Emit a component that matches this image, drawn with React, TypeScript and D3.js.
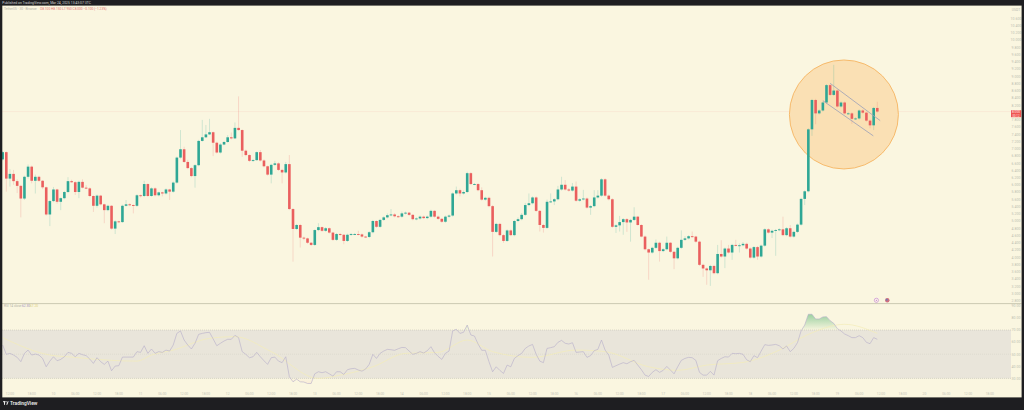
import * as d3 from 'd3';

// prices, one candle per entry
const firstOpen = 6.68;
const closes = [
  6.88, 6.15, 6.28, 6.08, 5.95, 5.60, 6.20, 6.48, 6.09, 6.20,
  6.09, 5.91, 5.16, 5.53, 5.85, 5.51, 5.61, 5.78, 6.08, 6.05,
  5.78, 6.06, 5.90, 5.88, 5.67, 5.40, 5.68, 5.44, 5.28, 5.40,
  4.77, 4.97, 4.95, 5.40, 5.44, 5.42, 5.40, 5.69, 5.67, 6.00,
  5.67, 5.88, 5.69, 5.77, 5.74, 5.85, 5.79, 6.04, 6.73, 6.96,
  6.61, 6.44, 6.22, 6.52, 7.19, 7.29, 7.37, 7.43, 7.14, 6.87,
  7.09, 7.16, 7.29, 7.26, 7.55, 7.49, 6.92, 6.80, 6.64, 6.66,
  6.88, 6.65, 6.49, 6.26, 6.53, 6.57, 6.39, 6.32, 6.55, 5.31,
  4.76, 4.87, 4.52, 4.50, 4.38, 4.32, 4.73, 4.81, 4.71, 4.78,
  4.66, 4.46, 4.62, 4.60, 4.43, 4.60, 4.62, 4.62, 4.61, 4.55,
  4.54, 4.67, 4.98, 4.82, 5.01, 5.08, 5.14, 5.16, 5.11, 5.10,
  5.19, 5.21, 5.15, 5.03, 5.05, 5.10, 5.06, 5.10, 5.26, 5.10,
  5.04, 4.96, 5.10, 5.13, 5.74, 5.83, 5.74, 5.78, 6.30, 6.00,
  6.00, 5.83, 5.57, 5.62, 5.39, 4.68, 4.90, 4.59, 4.43, 4.72,
  4.59, 4.98, 5.03, 5.15, 5.42, 5.47, 5.63, 5.26, 4.87, 4.79,
  5.51, 5.52, 5.58, 5.85, 5.98, 5.85, 5.82, 5.93, 5.54, 5.58,
  5.60, 5.35, 5.39, 5.63, 5.68, 6.13, 5.68, 5.58, 4.82, 4.86,
  4.95, 5.03, 4.94, 5.01, 5.10, 4.87, 4.55, 4.20, 4.11, 4.24,
  4.38, 4.15, 4.20, 4.38, 4.13, 3.95, 4.24, 4.46, 4.50, 4.56,
  4.55, 4.41, 3.77, 3.67, 3.62, 3.74, 3.54, 4.07, 4.00, 4.22,
  4.11, 4.32, 4.31, 4.31, 4.35, 4.22, 3.97, 4.26, 4.00, 4.30,
  4.75, 4.66, 4.71, 4.73, 4.75, 4.59, 4.78, 4.55, 4.68, 4.88,
  5.59, 5.80, 7.51, 8.32, 7.95, 8.03, 8.25, 8.73, 8.46, 8.58,
  8.14, 8.25, 7.95, 7.95, 7.80, 7.81, 8.03, 7.97, 7.75, 7.62, 8.10, 8.00,
];

// wick length above and below the body
const upperWicks = [
  .03, .02, .13, .11, .05, .03, .03, .06, .03, .06,
  .03, .02, .02, .03, .07, .02, .02, .03, .11, .04,
  .03, .03, .07, .07, .03, .02, .03, .02, .02, .03,
  .02, .03, .02, .03, .12, .03, .02, .03, .02, .09,
  .02, .03, .03, .02, .02, .03, .02, .03, .03, .53,
  .07, .06, .03, .03, .03, .48, .26, .37, .02, .03,
  .04, .03, .06, .13, .15, .87, .02, .03, .02, .03,
  .02, .06, .03, .02, .03, .07, .03, .03, .06, .25,
  .03, .03, .03, .03, .02, .02, .02, .11, .02, .03,
  .02, .02, .03, .03, .02, .03, .03, .03, .09, .03,
  .02, .03, .03, .02, .03, .03, .05, .15, .04, .03,
  .05, .03, .02, .02, .03, .03, .03, .03, .03, .02,
  .03, .02, .03, .03, .03, .10, .04, .04, .04, .03,
  .03, .03, .08, .03, .03, .03, .03, .03, .03, .03,
  .03, .03, .05, .05, .06, .27, .03, .03, .02, .03,
  .06, .22, .03, .10, .22, .13, .04, .10, .14, .03,
  .24, .03, .03, .20, .15, .03, .03, .03, .03, .03,
  .17, .03, .03, .03, .26, .02, .02, .03, .02, .03,
  .09, .03, .03, .17, .02, .02, .03, .26, .06, .03,
  .13, .02, .03, .03, .03, .03, .03, .25, .38, .03,
  .10, .03, .14, .05, .05, .03, .03, .03, .03, .03,
  .03, .03, .03, .03, .03, .35, .03, .09, .03, .03,
  .03, .03, .03, .03, .03, .03, .03, .03, .03, .71,
  .03, .03, .03, .03, .03, .03, .03, .03, .03, .03, .03, .17,
];
const lowerWicks = [
  .03, .36, .22, .10, .20, .52, .04, .05, .07, .35,
  .03, .05, .03, .32, .03, .05, .23, .03, .03, .02,
  .08, .17, .02, .02, .03, .17, .05, .03, .36, .03,
  .03, .15, .03, .02, .02, .03, .21, .03, .04, .03,
  .03, .02, .03, .03, .08, .03, .23, .03, .03, .03,
  .03, .03, .03, .32, .03, .02, .02, .02, .37, .03,
  .03, .02, .02, .03, .02, .02, .17, .03, .03, .03,
  .02, .03, .03, .03, .24, .03, .03, .30, .03, .03,
  .90, .03, .27, .05, .03, .03, .03, .03, .03, .03,
  .03, .03, .03, .03, .09, .03, .03, .03, .03, .03,
  .03, .03, .03, .03, .03, .03, .03, .03, .03, .03,
  .03, .03, .03, .03, .03, .03, .03, .03, .03, .03,
  .03, .03, .03, .03, .03, .03, .08, .03, .03, .03,
  .03, .03, .03, .03, .03, .68, .03, .03, .05, .03,
  .03, .03, .03, .03, .03, .03, .03, .03, .18, .13,
  .03, .03, .10, .03, .03, .03, .03, .03, .03, .03,
  .03, .03, .20, .03, .03, .03, .03, .03, .03, .17,
  .17, .35, .26, .53, .03, .02, .02, .03, .75, .03,
  .03, .29, .03, .03, .03, .30, .03, .03, .03, .03,
  .03, .03, .03, .23, .40, .43, .03, .03, .03, .32,
  .03, .20, .03, .20, .03, .03, .03, .03, .09, .03,
  .03, .03, .15, .69, .03, .03, .03, .03, .03, .03,
  .03, .17, .03, .18, .30, .03, .03, .03, .03, .03,
  .03, .03, .03, .03, .14, .03, .03, .03, .03, .08, .13, .03,
];

const rsiValues = [
  57.6, 49.9, 50.7, 49.3, 47.4, 43.8, 50.7, 53.4, 49.3, 50.1,
  49.3, 46.5, 39.6, 44.3, 47.9, 44.6, 45.7, 47.9, 51.5, 50.7,
  47.9, 50.7, 49.6, 48.8, 46.0, 42.4, 47.1, 43.8, 41.6, 44.3,
  36.3, 40.2, 40.5, 47.6, 47.6, 47.6, 47.6, 52.1, 51.5, 57.0,
  50.7, 54.3, 50.7, 52.1, 51.5, 53.4, 52.6, 57.6, 67.2, 69.2,
  61.7, 57.6, 54.3, 59.0, 66.4, 67.2, 67.8, 68.1, 62.6, 57.0,
  59.0, 60.9, 62.3, 62.3, 65.6, 63.7, 52.1, 49.9, 47.1, 47.9,
  51.5, 47.9, 44.6, 41.6, 47.1, 47.6, 44.3, 43.0, 47.9, 31.4,
  27.2, 29.4, 27.2, 27.0, 25.8, 25.8, 33.8, 35.5, 34.7, 35.5,
  33.8, 31.9, 35.5, 35.5, 33.3, 37.2, 38.0, 38.3, 36.9, 36.0,
  37.7, 41.6, 49.9, 46.5, 50.7, 52.6, 54.0, 53.7, 53.2, 54.5,
  55.6, 55.4, 52.6, 49.9, 50.7, 52.1, 51.0, 52.9, 56.2, 51.2,
  48.2, 45.7, 50.7, 52.6, 69.2, 70.6, 67.2, 68.1, 74.1, 65.9,
  65.0, 58.4, 53.2, 53.2, 43.8, 35.5, 39.6, 36.6, 34.1, 41.0,
  39.6, 46.5, 48.8, 50.7, 54.8, 56.8, 58.1, 49.9, 44.3, 43.0,
  54.8, 55.4, 56.2, 59.8, 61.4, 59.0, 58.4, 59.5, 51.5, 51.8,
  52.1, 47.4, 48.8, 52.9, 54.0, 61.7, 53.4, 49.3, 39.1, 40.5,
  41.8, 43.0, 42.1, 43.8, 44.9, 41.0, 37.2, 32.7, 31.6, 35.0,
  37.2, 35.0, 36.6, 39.9, 36.9, 33.8, 39.6, 44.9, 46.5, 47.4,
  47.1, 44.9, 35.0, 32.7, 32.7, 35.8, 32.7, 44.6, 46.5, 47.9,
  47.6, 50.7, 50.4, 50.7, 49.9, 45.4, 43.8, 48.8, 47.1, 52.6,
  57.9, 57.3, 57.6, 58.1, 57.0, 54.3, 56.8, 52.1, 54.8, 59.5,
  69.2, 74.1, 83.0, 83.0, 79.1, 79.1, 80.8, 81.0, 77.7, 75.5,
  71.1, 69.2, 66.7, 65.3, 63.7, 63.7, 65.3, 63.7, 59.8, 58.7, 63.7, 62.3,
];

// the RSI moving average, read at these candles
const rsiMaCandles = [0, 13, 19, 30, 37, 41, 47, 57, 64, 74, 87, 93, 102, 111, 120, 128, 135, 146, 158, 166, 178, 186, 194, 204, 214, 222, 232, 241];
const rsiMaValues = [63.6, 49.3, 47.6, 44.9, 44.3, 49.3, 53.4, 63.1, 64.5, 52.1, 30.0, 32.7, 39.6, 50.7, 51.5, 61.7, 52.1, 47.4, 53.4, 52.1, 39.6, 36.7, 41.0, 43.2, 53.4, 66.4, 74.7, 67.2];

const priceTicks = d3.range(0, 40).map(i => +(10.6 - i * 0.2).toFixed(1));
const rsiTicks = [90, 80, 70, 60, 50, 40, 30];
const hourLabels = ['12:00', '18:00', '', '06:00'];
const dayLabels = ['10', '11', '12', '13', '14', '15', '16', '17', '18', '19', '20', '21'];

const lastPrice = 8.0;
const flagUpper: [number, number][] = [[228, 8.78], [241.8, 7.75]];
const flagLower: [number, number][] = [[226, 8.30], [239.9, 7.33]];
const circleCenter: [number, number] = [231.8, 7.92];

const WIDTH = 1024;
const HEIGHT = 410;
const UP = '#2fa795';
const DOWN = '#ea5f5e';
const BG = '#faf6e0';
const DARK = '#1e1e21';
const font = 'Roboto, "Liberation Sans", sans-serif';

const x = d3.scaleLinear().domain([0, 241]).range([2.67, 877.3]);
const y = d3.scaleLinear().domain([10, 3]).range([39.1, 292.75]);
const yRsi = d3.scaleLinear().domain([70, 30]).range([330, 378.4]);

const candles = closes.map((close, i) => {
  const open = i === 0 ? firstOpen : closes[i - 1];
  return {
    i,
    open,
    close,
    high: Math.max(open, close) + upperWicks[i],
    low: Math.min(open, close) - lowerWicks[i],
  };
});

export default function App() {
  const rsiLine = d3.line<number>().x((_, i) => x(i)).y(d => yRsi(d));
  const rsiArea = d3.area<number>().x((_, i) => x(i)).y1(d => yRsi(d));
  const maLine = d3.line<number>()
    .x((_, i) => x(rsiMaCandles[i]))
    .y(d => yRsi(d))
    .curve(d3.curveMonotoneX);
  const flag = d3.line<[number, number]>().x(d => x(d[0])).y(d => y(d[1]));

  const timeTicks = d3.range(0, 46).map(k => {
    const isDay = k % 4 === 2;
    return {
      k,
      pos: x(2 + k * 6),
      label: isDay ? dayLabels[(k - 2) / 4] : hourLabels[k % 4],
    };
  });

  return (
    <svg
      width={WIDTH}
      height={HEIGHT}
      viewBox={`0 0 ${WIDTH} ${HEIGHT}`}
      style={{ position: 'absolute', left: 0, top: 0, display: 'block' }}
      fontFamily={font}
    >
      <defs>
        <linearGradient id="obFill" x1="0" x2="0" y1={yRsi(85)} y2={yRsi(70)} gradientUnits="userSpaceOnUse">
          <stop offset="0" stopColor="#5fb878" stopOpacity={0.7} />
          <stop offset="1" stopColor="#5fb878" stopOpacity={0.02} />
        </linearGradient>
        <linearGradient id="osFill" x1="0" x2="0" y1={yRsi(30)} y2={yRsi(24)} gradientUnits="userSpaceOnUse">
          <stop offset="0" stopColor="#ef5350" stopOpacity={0.01} />
          <stop offset="1" stopColor="#ef5350" stopOpacity={0.08} />
        </linearGradient>
        <clipPath id="aboveBand"><rect x={0} y={0} width={WIDTH} height={yRsi(70)} /></clipPath>
        <clipPath id="belowBand"><rect x={0} y={yRsi(30)} width={WIDTH} height={60} /></clipPath>
      </defs>

      <rect width={WIDTH} height={HEIGHT} fill={BG} />

      {/* last price line */}
      <line x1={2} x2={1011} y1={y(lastPrice)} y2={y(lastPrice)} stroke="#ec5b5b" strokeOpacity={0.1} strokeWidth={0.7} />

      {/* highlighted flag */}
      <circle
        cx={x(circleCenter[0])}
        cy={y(circleCenter[1])}
        r={54.5}
        fill="#fae0b4"
        stroke="#f5ae55"
        strokeWidth={0.8}
      />

      {/* candles */}
      {candles.map(d => {
        const up = d.close >= d.open;
        const color = up ? UP : DOWN;
        const top = y(Math.max(d.open, d.close));
        const bottom = y(Math.min(d.open, d.close));
        return (
          <g key={d.i}>
            <line x1={x(d.i)} x2={x(d.i)} y1={y(d.high)} y2={y(d.low)} stroke={color} strokeOpacity={0.3} strokeWidth={0.7} />
            <rect x={x(d.i) - 1.3} width={2.6} y={top} height={Math.max(bottom - top, 0.9)} fill={color} />
          </g>
        );
      })}

      <path d={flag(flagUpper) || ''} fill="none" stroke="#9aa0b8" strokeWidth={0.8} />
      <path d={flag(flagLower) || ''} fill="none" stroke="#9aa0b8" strokeWidth={0.8} />

      {/* pane separator */}
      <line x1={2} x2={1021.5} y1={303.6} y2={303.6} stroke="#c6c4ae" strokeWidth={0.9} />

      {/* event marks */}
      <circle cx={876.4} cy={300.3} r={2.1} fill="#fbf2e8" stroke="#c07ed0" strokeWidth={0.6} />
      <circle cx={876.4} cy={300.3} r={0.6} fill="#c07ed0" />
      <circle cx={887.3} cy={300.3} r={2.2} fill="#d0707f" />
      <circle cx={886.7} cy={299.7} r={1} fill="#6f78b4" />

      {/* RSI pane */}
      <rect x={2} width={1009} y={yRsi(70)} height={yRsi(30) - yRsi(70)} fill="#e9e5da" />
      {[70, 50, 30].map(v => (
        <line
          key={v}
          x1={2}
          x2={1011}
          y1={yRsi(v)}
          y2={yRsi(v)}
          stroke="#b0aea2"
          strokeOpacity={v === 50 ? 0.35 : 0.8}
          strokeWidth={0.5}
          strokeDasharray="1 1"
        />
      ))}
      <path d={rsiArea.y0(yRsi(70))(rsiValues) || ''} fill="url(#obFill)" clipPath="url(#aboveBand)" />
      <path d={rsiArea.y0(yRsi(30))(rsiValues) || ''} fill="url(#osFill)" clipPath="url(#belowBand)" />
      <path d={maLine(rsiMaValues) || ''} fill="none" stroke="#f3ecb8" strokeWidth={0.7} />
      <path d={rsiLine(rsiValues) || ''} fill="none" stroke="#b5adc9" strokeWidth={0.6} />

      {/* price scale */}
      <text x={1016} y={10.5} fontSize={3.4} fill="#b8b8ae" textAnchor="middle">USDT</text>
      {priceTicks.map(p => (
        <text
          key={p}
          x={1016}
          y={y(p) + 2.2}
          fontSize={3.5}
          fill="#bdbdb2"
          textAnchor="middle"
        >
          {p.toFixed(3)}
        </text>
      ))}
      <rect x={1011} y={110.2} width={10.2} height={7} fill="#ef5350" />
      <text x={1016} y={113.3} fontSize={3.2} fill="#ffe8e4" textAnchor="middle">{lastPrice.toFixed(3)}</text>
      <text x={1016} y={116.5} fontSize={2.8} fill="#ffe8e4" textAnchor="middle">00:12</text>

      {rsiTicks.map(v => (
        <text key={v} x={1016} y={yRsi(v) + 1.3} fontSize={3.5} fill="#bdbdb2" textAnchor="middle">
          {v.toFixed(2)}
        </text>
      ))}

      {/* time scale */}
      {timeTicks.map(t => (
        <text
          key={t.k}
          x={t.pos}
          y={394.6}
          fontSize={3.3}
          fill="#c6c5b8"
          textAnchor="middle"
        >
          {t.label}
        </text>
      ))}

      {/* legends */}
      <text x={4} y={10} fontSize={3.2} fill="#b5b4a8">TetherUS · 30 · Binance</text>
      <text x={40} y={10} fontSize={3.2} fill="#e4736f">O8.100 H8.150 L7.950 C8.000 −0.100 (−1.23%)</text>
      <text x={4} y={307.2} fontSize={3.2} fill="#b5b4a8">RSI 14 close</text>
      <text x={22} y={307.2} fontSize={3.2} fill="#9a90bb">62.30</text>
      <text x={30} y={307.2} fontSize={3.2} fill="#dccf7a">67.20</text>

      {/* window frame */}
      <rect x={0} y={0} width={WIDTH} height={5.6} fill={DARK} />
      <rect x={0} y={0} width={2.3} height={HEIGHT} fill={DARK} />
      <rect x={1021.6} y={0} width={2.4} height={HEIGHT} fill={DARK} />
      <rect x={0} y={397.4} width={WIDTH} height={12.6} fill={DARK} />

      <text x={2.3} y={3.9} fontSize={3.4} fill="#d4d4d4">Published on TradingView.com, Mar 24, 2025 13:43:07 UTC</text>
      <g fill="#e9e9e9">
        <rect x={3} y={401.2} width={2.6} height={1} />
        <rect x={4} y={401.2} width={1} height={3.6} />
        <circle cx={6.3} cy={401.8} r={0.55} />
        <path d="M6.2 404.8 L7.6 401.2 L8.7 401.2 L7.3 404.8 Z" />
      </g>
      <text x={10} y={404.9} fontSize={4.9} fontWeight={600} fill="#e9e9e9">TradingView</text>
    </svg>
  );
}
